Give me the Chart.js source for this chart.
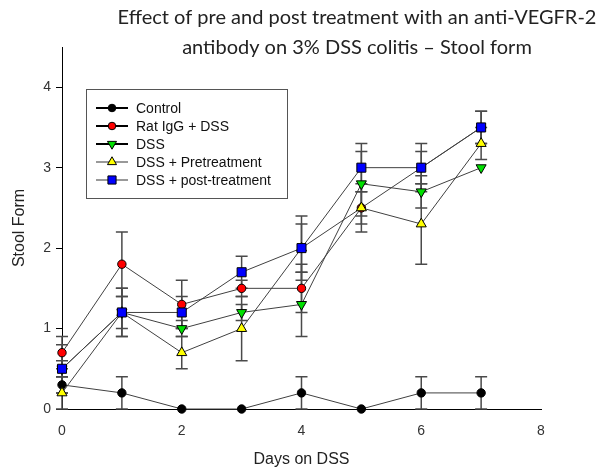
<!DOCTYPE html>
<html lang="en">
<head>
  <meta charset="UTF-8">
  <title>Stool form - anti-VEGFR-2</title>
  <style>
    html, body { margin: 0; padding: 0; background: #fff; }
    #chartContainer { width: 606px; height: 469px; }
  </style>
</head>
<body>
  <div id="chartContainer">
    <canvas id="myChart" width="606" height="469"></canvas>
  </div>

  <script src="https://cdn.jsdelivr.net/npm/chart.js@4.4.2/dist/chart.umd.min.js"></script>
  <script>
    // Data (mean and error per day)
    const days = [0, 1, 2, 3, 4, 5, 6, 7];
    const control    = [0.3, 0.2, 0, 0, 0.2, 0, 0.2, 0.2];
    const controlErr = [0.1, 0.2, 0, 0, 0.2, 0, 0.2, 0.2];
    const ratIgG     = [0.7, 1.8, 1.3, 1.5, 1.5, 2.5, 3.0, 3.5];
    const ratIgGErr  = [0.2, 0.4, 0.3, 0.1, 0.3, 0.2, 0.2, 0.2];
    const dss        = [0.5, 1.2, 1.0, 1.2, 1.3, 2.8, 2.7, 3.0];
    const dssErr     = [0.3, 0.2, 0.1, 0.1, 0.4, 0.4, 0.2, 0];
    const preTx      = [0.2, 1.2, 0.7, 1.0, 2.0, 2.5, 2.3, 3.3];
    const preTxErr   = [0.2, 0.3, 0.2, 0.4, 0.3, 0.3, 0.5, 0.2];
    const postTx     = [0.5, 1.2, 1.2, 1.7, 2.0, 3.0, 3.0, 3.5];
    const postTxErr  = [0.1, 0.3, 0.2, 0.2, 0.4, 0.3, 0.3, 0.2];

    const seriesLabels = ['Control', 'Rat IgG + DSS', 'DSS', 'DSS + Pretreatment', 'DSS + post-treatment'];
    const xTicks = [0, 2, 4, 6, 8];
    const yTicks = [0, 1, 2, 3, 4];
    const titleLines = ['Effect of pre and post treatment with an anti-VEGFR-2',
                        'antibody on 3% DSS colitis \u2013 Stool form'];

    const pts = arr => days.map((d, i) => ({ x: d, y: arr[i] }));

    const styles = [
      { color: '#000000', style: 'circle',   radius: 4.2, rot: 0,   legendLine: '#000' },
      { color: '#ff0000', style: 'circle',   radius: 4.2, rot: 0,   legendLine: '#000' },
      { color: '#00e000', style: 'triangle', radius: 5.8, rot: 180, legendLine: '#000' },
      { color: '#ffff00', style: 'triangle', radius: 5.8, rot: 0,   legendLine: '#999' },
      { color: '#0000ff', style: 'rect',     radius: 6.4, rot: 0,   legendLine: '#999' }
    ];
    const values = [control, ratIgG, dss, preTx, postTx];
    const errors = [controlErr, ratIgGErr, dssErr, preTxErr, postTxErr];

    const datasets = values.map((v, k) => ({
      label: seriesLabels[k],
      data: pts(v),
      errors: errors[k],
      borderColor: '#404040',
      borderWidth: 1,
      pointStyle: styles[k].style,
      pointRotation: styles[k].rot,
      pointRadius: styles[k].radius,
      pointBackgroundColor: styles[k].color,
      pointBorderColor: '#000',
      pointBorderWidth: 1,
      tension: 0,
      clip: false,
      order: 4 - k   // later series drawn on top
    }));

    // error bars, drawn under the lines and markers
    const errorBars = {
      id: 'errorBars',
      beforeDatasetsDraw(chart) {
        const { ctx, scales: { x, y } } = chart;
        ctx.save();
        ctx.strokeStyle = '#4a4a4a';
        ctx.lineWidth = 1.5;
        chart.data.datasets.forEach(ds => {
          ds.data.forEach((p, i) => {
            const e = ds.errors[i];
            if (!e) return;
            const px = x.getPixelForValue(p.x);
            const top = y.getPixelForValue(p.y + e);
            const bot = y.getPixelForValue(Math.max(p.y - e, 0));
            ctx.beginPath();
            ctx.moveTo(px, top); ctx.lineTo(px, bot);
            ctx.moveTo(px - 6, top); ctx.lineTo(px + 6, top);
            if (p.y - e >= 0) { ctx.moveTo(px - 6, bot); ctx.lineTo(px + 6, bot); }
            ctx.stroke();
          });
        });
        ctx.restore();
      }
    };

    // title and boxed legend
    const decorations = {
      id: 'decorations',
      afterDraw(chart) {
        const ctx = chart.ctx;
        ctx.save();
        ctx.fillStyle = '#222';
        ctx.font = '20px Lato, "Open Sans", sans-serif';
        ctx.textAlign = 'center';
        ctx.textBaseline = 'middle';
        ctx.fillText(titleLines[0], 357, 18);
        ctx.fillText(titleLines[1], 357, 48);

        // legend box
        ctx.fillStyle = '#fff';
        ctx.fillRect(86.5, 89.5, 201, 109);
        ctx.strokeStyle = '#555';
        ctx.lineWidth = 1;
        ctx.strokeRect(86.5, 89.5, 201, 109);
        ctx.font = '14px "Liberation Sans", Arial, sans-serif';
        ctx.textAlign = 'left';
        chart.data.datasets.forEach((ds, k) => {
          const yy = 108 + 18 * k;
          ctx.strokeStyle = styles[k].legendLine;
          ctx.lineWidth = 2;
          ctx.beginPath();
          ctx.moveTo(96, yy); ctx.lineTo(128, yy);
          ctx.stroke();
          ctx.fillStyle = styles[k].color;
          ctx.strokeStyle = '#000';
          ctx.lineWidth = 1;
          Chart.helpers.drawPoint(ctx, {
            pointStyle: styles[k].style,
            rotation: styles[k].rot,
            radius: styles[k].radius * 0.9,
            borderWidth: 1
          }, 112, yy);
          ctx.fillStyle = '#111';
          ctx.fillText(ds.label, 136, yy + 1);
        });
        ctx.restore();
      }
    };

    const ctx = document.getElementById('myChart').getContext('2d');
    const chart = new Chart(ctx, {
      type: 'line',
      data: { datasets },
      options: {
        responsive: false,
        animation: false,
        devicePixelRatio: 1,
        layout: { padding: { top: 47, right: 65, left: 0, bottom: 0 } },
        plugins: {
          legend: { display: false },
          tooltip: { enabled: false },
          title: { display: false }
        },
        scales: {
          x: {
            type: 'linear',
            min: 0,
            max: 8,
            afterFit: s => { s.height = 60; },
            afterBuildTicks: s => { s.ticks = xTicks.map(v => ({ value: v })); },
            grid: { display: true, drawOnChartArea: false, drawTicks: false },
            border: { display: true, color: '#000', width: 1 },
            ticks: {
              padding: 14,
              color: '#333',
              font: { family: '"Liberation Sans", Arial, sans-serif', size: 14 }
            },
            title: {
              display: true,
              text: 'Days on DSS',
              color: '#222',
              padding: { top: 0, bottom: 0 },
              font: { family: '"Liberation Sans", Arial, sans-serif', size: 16 }
            }
          },
          y: {
            type: 'linear',
            min: 0,
            max: 4.5,
            afterFit: s => { s.width = 62; },
            afterBuildTicks: s => { s.ticks = yTicks.map(v => ({ value: v })); },
            grid: { display: true, drawOnChartArea: false, drawTicks: true, tickLength: 6, color: '#000' },
            border: { display: true, color: '#000', width: 1 },
            ticks: {
              padding: 5,
              color: '#333',
              font: { family: '"Liberation Sans", Arial, sans-serif', size: 14 }
            },
            title: {
              display: true,
              text: 'Stool Form',
              color: '#222',
              padding: { top: 10, bottom: 4 },
              font: { family: '"Liberation Sans", Arial, sans-serif', size: 16 }
            }
          }
        }
      },
      plugins: [errorBars, decorations]
    });
  </script>
</body>
</html>
